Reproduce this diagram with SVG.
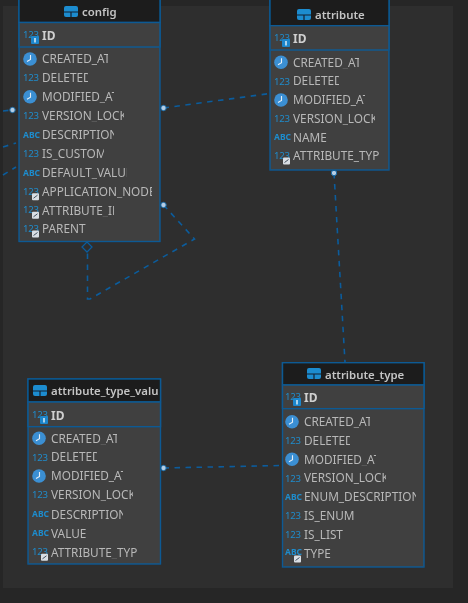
<svg xmlns="http://www.w3.org/2000/svg" width="468" height="603" viewBox="0 0 468 603">
<style>
.f{fill:#404040;stroke:#0b5a94;stroke-width:1.4}
.h{fill:#1d1d1d;stroke:#0b5a94;stroke-width:1.4}
text{font-family:"Noto Sans","Open Sans","Liberation Sans",sans-serif}
.c{font-size:11.8px;fill:#b8b8b8}
.b{font-size:12px;fill:#cfcfcf;font-weight:700}
.ti{font-size:11.4px;fill:#c4c4c4;font-weight:600}
.n{font-size:9.6px;letter-spacing:-0.3px;fill:#1f8ccc}
.a{font-size:8.500px;fill:#1f8ccc;font-weight:700}
.l{fill:none;stroke:#0a5c9c;stroke-width:1.6;stroke-dasharray:5.5 5.500}
.d{fill:#b5cde4;stroke:#1b6aa5;stroke-width:1}
</style>
<defs>
<filter id="soft" x="0" y="0" width="100%" height="100%"><feGaussianBlur stdDeviation="0.45"/></filter>
<clipPath id="w46"><rect x="0" y="-14" width="46" height="20"/></clipPath>
<clipPath id="w62"><rect x="0" y="-14" width="62" height="20"/></clipPath>
<clipPath id="w66"><rect x="0" y="-14" width="66" height="20"/></clipPath>
<clipPath id="w72"><rect x="0" y="-14" width="72" height="20"/></clipPath>
<clipPath id="w82"><rect x="0" y="-14" width="82" height="20"/></clipPath>
<clipPath id="w85"><rect x="0" y="-14" width="85" height="20"/></clipPath>
<clipPath id="w87"><rect x="0" y="-14" width="87" height="20"/></clipPath>
<clipPath id="w110"><rect x="0" y="-14" width="110" height="20"/></clipPath>
<clipPath id="w112"><rect x="0" y="-14" width="112" height="20"/></clipPath>
<clipPath id="tt"><rect x="0" y="-14" width="107" height="20"/></clipPath>
<g id="clk"><circle cx="-12" cy="0" r="6.8" fill="#3b8fd3"/><path d="M-11.500 -4V0.500L-15 2.500" fill="none" stroke="#e6eef6" stroke-width="1.100"/></g>
<g id="pk"><rect x="-11" y="1" width="8" height="8" rx="1" fill="#1a86cc"/><path d="M-7 3V7.500" stroke="#e8f2fa" stroke-width="1.400"/></g>
<g id="fk"><rect x="-10" y="1.500" width="7" height="7" rx="1" fill="#d9dee4"/><path d="M-8.500 6.500L-4.500 3.500" stroke="#44505c"/></g>
<g id="tb"><rect x="0" y="-6" width="14" height="11" rx="2" fill="#1a8ccf"/><path d="M0 0H14M7 0V5" stroke="#123" stroke-width="1.200"/></g>
</defs>
<g filter="url(#soft)">
<rect width="468" height="603" fill="#262626"/>
<rect x="3" y="6" width="450" height="582" fill="#2e2e2e"/>
<g id="connectors">
<path class="l" d="M163.500 108L270 93.500"/>
<path class="l" d="M163.500 205L194.500 239L90 299H87.500V253"/>
<path class="l" d="M334 173L345 362"/>
<path class="l" d="M163.500 468L282 465.500"/>
<path class="l" d="M3 111L12 110M3 147L16 143M3 175L16 167"/>
<path d="M87 242L92 247L87 252L82 247Z" fill="#2e2e2e" stroke="#0a5c9c" stroke-width="1.300"/>
<circle class="d" cx="163.500" cy="108" r="2.700"/>
<circle class="d" cx="163.500" cy="205" r="2.700"/>
<circle class="d" cx="334" cy="173" r="2.700"/>
<circle class="d" cx="163.500" cy="468" r="2.700"/>
<circle class="d" cx="12.500" cy="110" r="2.700"/>
</g>
<g id="config">
<rect class="f" x="19" y="-2" width="141" height="243.500"/>
<rect class="h" x="19" y="-2" width="141" height="24.500"/>
<rect class="f" x="19" y="22.500" width="141" height="24.500"/>
<use href="#tb" x="64" y="12"/>
<text class="ti" x="82" y="16">config</text>
<g transform="translate(42,35)"><text class="n" x="-19" y="3">123</text><use href="#pk"/><text class="b" y="4.500">ID</text></g>
<g transform="translate(42,59)"><use href="#clk"/><text class="c" y="4.300" clip-path="url(#w66)">CREATED_AT</text></g>
<g transform="translate(42,77.700)"><text class="n" x="-19" y="3.500">123</text><text class="c" y="4.300" clip-path="url(#w46)">DELETED</text></g>
<g transform="translate(42,96.700)"><use href="#clk"/><text class="c" y="4.300" clip-path="url(#w72)">MODIFIED_AT</text></g>
<g transform="translate(42,115.300)"><text class="n" x="-19" y="3.500">123</text><text class="c" y="4.300" clip-path="url(#w82)">VERSION_LOCK</text></g>
<g transform="translate(42,134.700)"><text class="a" x="-19" y="3">ABC</text><text class="c" y="4.300" clip-path="url(#w72)">DESCRIPTION</text></g>
<g transform="translate(42,153.700)"><text class="n" x="-19" y="3.500">123</text><text class="c" y="4.300" clip-path="url(#w62)">IS_CUSTOM</text></g>
<g transform="translate(42,172.700)"><text class="a" x="-19" y="3">ABC</text><text class="c" y="4.300" clip-path="url(#w85)">DEFAULT_VALUE</text></g>
<g transform="translate(42,191.700)"><text class="n" x="-19" y="3">123</text><use href="#fk"/><text class="c" y="4.300" clip-path="url(#w110)">APPLICATION_NODE</text></g>
<g transform="translate(42,210.300)"><text class="n" x="-19" y="3">123</text><use href="#fk"/><text class="c" y="4.300" clip-path="url(#w72)">ATTRIBUTE_ID</text></g>
<g transform="translate(42,229)"><text class="n" x="-19" y="3">123</text><use href="#fk"/><text class="c" y="4.300">PARENT</text></g>
</g>
<g id="attribute">
<rect class="f" x="270" y="-2" width="119" height="172"/>
<rect class="h" x="270" y="-2" width="119" height="27.700"/>
<rect class="f" x="270" y="25.700" width="119" height="24.300"/>
<use href="#tb" x="297" y="15"/>
<text class="ti" x="315" y="19">attribute</text>
<g transform="translate(293,38)"><text class="n" x="-19" y="3">123</text><use href="#pk"/><text class="b" y="4.500">ID</text></g>
<g transform="translate(293,62.300)"><use href="#clk"/><text class="c" y="4.300" clip-path="url(#w66)">CREATED_AT</text></g>
<g transform="translate(293,81)"><text class="n" x="-19" y="3.500">123</text><text class="c" y="4.300" clip-path="url(#w46)">DELETED</text></g>
<g transform="translate(293,100)"><use href="#clk"/><text class="c" y="4.300" clip-path="url(#w72)">MODIFIED_AT</text></g>
<g transform="translate(293,118.700)"><text class="n" x="-19" y="3.500">123</text><text class="c" y="4.300" clip-path="url(#w82)">VERSION_LOCK</text></g>
<g transform="translate(293,137.300)"><text class="a" x="-19" y="3">ABC</text><text class="c" y="4.300">NAME</text></g>
<g transform="translate(293,156)"><text class="n" x="-19" y="3">123</text><use href="#fk"/><text class="c" y="4.300" clip-path="url(#w87)">ATTRIBUTE_TYPE</text></g>
</g>
<g id="attribute_type_value">
<rect class="f" x="28" y="379" width="132.500" height="185"/>
<rect class="h" x="28" y="379" width="132.500" height="23"/>
<rect class="f" x="28" y="402" width="132.500" height="24.700"/>
<use href="#tb" x="33" y="391"/>
<g transform="translate(51,395)"><text class="ti" clip-path="url(#tt)">attribute_type_value</text></g>
<g transform="translate(51,415)"><text class="n" x="-19" y="3">123</text><use href="#pk"/><text class="b" y="4.500">ID</text></g>
<g transform="translate(51,438.300)"><use href="#clk"/><text class="c" y="4.300" clip-path="url(#w66)">CREATED_AT</text></g>
<g transform="translate(51,457)"><text class="n" x="-19" y="3.500">123</text><text class="c" y="4.300" clip-path="url(#w46)">DELETED</text></g>
<g transform="translate(51,476)"><use href="#clk"/><text class="c" y="4.300" clip-path="url(#w72)">MODIFIED_AT</text></g>
<g transform="translate(51,494.700)"><text class="n" x="-19" y="3.500">123</text><text class="c" y="4.300" clip-path="url(#w82)">VERSION_LOCK</text></g>
<g transform="translate(51,514.300)"><text class="a" x="-19" y="3">ABC</text><text class="c" y="4.300" clip-path="url(#w72)">DESCRIPTION</text></g>
<g transform="translate(51,533.300)"><text class="a" x="-19" y="3">ABC</text><text class="c" y="4.300">VALUE</text></g>
<g transform="translate(51,552.300)"><text class="n" x="-19" y="3">123</text><use href="#fk"/><text class="c" y="4.300" clip-path="url(#w87)">ATTRIBUTE_TYPE</text></g>
</g>
<g id="attribute_type">
<rect class="f" x="282.500" y="362.700" width="141.500" height="204.300"/>
<rect class="h" x="282.500" y="362.700" width="141.500" height="22.300"/>
<rect class="f" x="282.500" y="385" width="141.500" height="23.700"/>
<use href="#tb" x="307" y="374"/>
<text class="ti" x="325" y="378.500">attribute_type</text>
<g transform="translate(304,397)"><text class="n" x="-19" y="3">123</text><use href="#pk"/><text class="b" y="4.500">ID</text></g>
<g transform="translate(304,421.700)"><use href="#clk"/><text class="c" y="4.300" clip-path="url(#w66)">CREATED_AT</text></g>
<g transform="translate(304,440.300)"><text class="n" x="-19" y="3.500">123</text><text class="c" y="4.300" clip-path="url(#w46)">DELETED</text></g>
<g transform="translate(304,459.300)"><use href="#clk"/><text class="c" y="4.300" clip-path="url(#w72)">MODIFIED_AT</text></g>
<g transform="translate(304,478)"><text class="n" x="-19" y="3.500">123</text><text class="c" y="4.300" clip-path="url(#w82)">VERSION_LOCK</text></g>
<g transform="translate(304,497)"><text class="a" x="-19" y="3">ABC</text><text class="c" y="4.300" clip-path="url(#w112)">ENUM_DESCRIPTION</text></g>
<g transform="translate(304,515.700)"><text class="n" x="-19" y="3.500">123</text><text class="c" y="4.300">IS_ENUM</text></g>
<g transform="translate(304,534.700)"><text class="n" x="-19" y="3.500">123</text><text class="c" y="4.300">IS_LIST</text></g>
<g transform="translate(304,554)"><text class="a" x="-19" y="1">ABC</text><use href="#fk"/><text class="c" y="4.300">TYPE</text></g>
</g>
</g>
</svg>
